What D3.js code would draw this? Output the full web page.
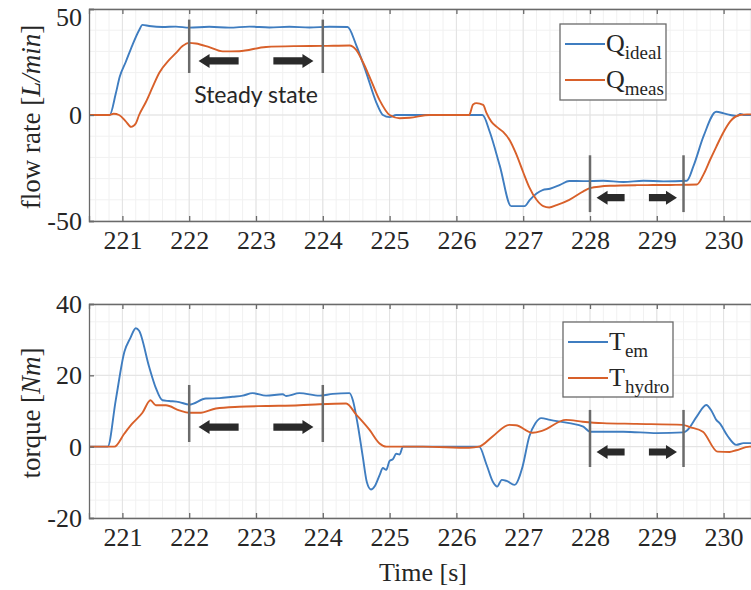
<!DOCTYPE html>
<html><head><meta charset="utf-8">
<script src="https://cdn.jsdelivr.net/npm/d3@7"></script>
<style>body{margin:0;background:#fff}svg{display:block}
.serif{font-family:"Liberation Serif","Times New Roman",serif;}</style>
</head><body>
<svg id="c" width="751" height="590"></svg>
<script>
// ---- data ----
const xTicks = [221,222,223,224,225,226,227,228,229,230];
const flowTicks = [-50,0,50];
const torqueTicks = [-20,0,20,40];

const qIdealT = [220.5,220.81,220.9,220.96,221.05,221.15,221.25,221.3,221.4,221.6,221.8,222.0,222.3,222.6,222.9,223.2,223.5,223.8,224.1,224.37,224.5,224.65,224.8,224.9,225.0,225.1,225.5,226.0,226.39,226.5,226.65,226.82,227.02,227.1,227.2,227.29,227.4,227.55,227.69,227.9,228.2,228.5,228.8,229.1,229.45,229.55,229.7,229.89,230.0,230.1,230.2,230.25,230.3,230.5,231];
const qIdeal  = [0,0,10,18,25,33,40,42.5,42,41.5,41.7,41.2,41.6,41.2,41.7,41.3,41.6,41.3,41.6,41.5,33,20,6,0,-1,0,0,0,0,-8,-24,-43,-43,-40,-37,-35.4,-34.8,-33,-31.1,-31.2,-31,-31.6,-31,-31.3,-31,-24,-10,1.5,0.8,0,-0.5,0.5,0,0,0];

const qMeasT = [220.5,220.8,220.87,220.95,221.05,221.13,221.2,221.25,221.35,221.45,221.55,221.7,221.8,221.9,222.0,222.1,222.3,222.5,222.75,223.15,223.6,224.0,224.4,224.5,224.6,224.7,224.85,225.0,225.15,225.3,225.6,226.0,226.19,226.25,226.3,226.4,226.45,226.52,226.6,226.7,226.8,226.89,227.0,227.09,227.2,227.3,227.39,227.5,227.69,227.9,228.0,228.3,228.7,229.2,229.6,229.7,229.8,229.89,230.0,230.1,230.24,230.35,231];
const qMeas  = [0,0,0.6,0,-3,-5.6,-4,0,6,13,19.8,26,29.2,32.5,34,33.7,32,30,30.1,32.1,32.5,32.6,32.8,30.7,25,18,7,0,-1.5,-1.3,0,0,0,5,5.6,4.8,1,-3,-5.5,-8,-12,-18,-27,-34,-40,-43,-43.6,-42.5,-40,-36,-34.5,-33.4,-33.1,-33,-32.8,-28,-21,-15,-8,-3,0,0.3,0];

const tEmT = [220.5,220.78,220.9,221.03,221.12,221.2,221.25,221.4,221.5,221.6,221.7,221.85,222.0,222.25,222.45,222.65,222.8,222.95,223.15,223.4,223.45,223.65,223.95,224.15,224.4,224.45,224.52,224.6,224.66,224.72,224.78,224.85,224.9,224.95,225.0,225.05,225.1,225.15,225.2,225.5,226.0,226.34,226.45,226.55,226.61,226.68,226.75,226.87,226.99,227.09,227.18,227.27,227.4,227.69,227.9,228.0,228.5,229.0,229.4,229.45,229.6,229.74,229.82,229.89,229.94,230.06,230.19,230.3,230.39,231];
const tEm  = [0,0,13,26.6,30.5,33.2,32.5,22.4,16.5,13,12.8,12.5,11.8,13.5,13.6,14,14.3,15,14.3,14.7,14.2,15,14.3,14.8,15,13,6.5,-3,-10,-12,-11,-8,-6,-6.5,-4,-3.5,-2,-2.2,0,0,0,0,-5,-10,-11.2,-9.3,-9.6,-10.7,-5.6,2.8,6.5,8,7.5,6.6,5.6,4.2,4.2,3.8,4,4.5,8.5,11.7,10,7.5,6.6,3,0.5,1,1,1];

const tHydroT = [220.5,220.88,221.03,221.15,221.3,221.42,221.5,221.65,221.85,222.0,222.15,222.4,222.75,223.15,223.65,223.95,224.35,224.5,224.7,224.85,224.95,225.5,226.19,226.34,226.55,226.79,226.89,227.14,227.29,227.64,227.89,228.19,228.69,229.39,229.49,229.69,229.91,230.09,230.19,230.39,231];
const tHydro  = [0,0,3.7,6.5,9.5,13,11.6,11.6,10.2,9.5,9.5,10.7,11.2,11.4,11.6,11.9,12.1,9,4.7,0.9,0,0,-0.3,0,3,6.1,6,3.9,4.5,7.5,7,6.6,6.4,6.1,5.5,4.2,-1.4,-1.5,-1,0,0];

// steady-state annotation windows [start, end] in seconds
const topWindows = [[222,224],[228,229.4]];
const bottomWindows = [[222,224],[228,229.4]];

// ---- layout ----
const svg = d3.select("#c");
const blue = "#3f7dc0", orange = "#d8602a";
const SERIF = "'Liberation Serif','Times New Roman',serif";
const x = d3.scaleLinear().domain([220.5, 231]).range([89, 790.4]);

const panels = [
  {top:9, bottom:221, domain:[-50,50], ticks:flowTicks, minor:10,
   series:[[qIdealT,qIdeal,blue],[qMeasT,qMeas,orange]],
   label:["flow rate [","L/min","]"],
   legend:{x:560,y:24,w:106,h:76, items:[["Q","ideal",blue],["Q","meas",orange]]},
   windows:topWindows,
   ann:[{lo:19.8,hi:45,arrow:25.5},{lo:-45.8,hi:-19,arrow:-39}]},
  {top:304, bottom:518, domain:[-20,40], ticks:torqueTicks, minor:5,
   series:[[tEmT,tEm,blue],[tHydroT,tHydro,orange]],
   label:["torque [","Nm","]"],
   legend:{x:563,y:322,w:110,h:75, items:[["T","em",blue],["T","hydro",orange]]},
   windows:bottomWindows,
   ann:[{lo:1.3,hi:17.3,arrow:5.5},{lo:-5.7,hi:10.3,arrow:-1.5}]}
];

const L = 89, R = 790.4;
panels.forEach((p,pi)=>{
  const y = d3.scaleLinear().domain(p.domain).range([p.bottom,p.top]);
  const g = svg.append("g");
  const cid = "clip"+pi;
  svg.append("clipPath").attr("id",cid).append("rect")
    .attr("x",L).attr("y",p.top).attr("width",R-L).attr("height",p.bottom-p.top);
  g.append("rect").attr("x",L).attr("y",p.top).attr("width",R-L).attr("height",p.bottom-p.top).attr("fill","#fff");
  const xm = d3.range(220.6, 231, 0.2);
  g.selectAll(".xm").data(xm).join("line")
    .attr("x1",d=>x(d)).attr("x2",d=>x(d)).attr("y1",p.top).attr("y2",p.bottom)
    .attr("stroke","#f1f1f1").attr("stroke-width",1);
  const ym = d3.range(p.domain[0]+p.minor, p.domain[1], p.minor);
  g.selectAll(".ym").data(ym).join("line")
    .attr("x1",L).attr("x2",R).attr("y1",d=>y(d)).attr("y2",d=>y(d))
    .attr("stroke","#f1f1f1").attr("stroke-width",1);
  g.selectAll(".xg").data(xTicks).join("line")
    .attr("x1",d=>x(d)).attr("x2",d=>x(d)).attr("y1",p.top).attr("y2",p.bottom)
    .attr("stroke","#e2e2e2").attr("stroke-width",1);
  g.selectAll(".yg").data(p.ticks).join("line")
    .attr("x1",L).attr("x2",R).attr("y1",d=>y(d)).attr("y2",d=>y(d))
    .attr("stroke","#e2e2e2").attr("stroke-width",1);

  const line = d3.line().x(d=>x(d[0])).y(d=>y(d[1])).curve(d3.curveMonotoneX);
  const sg = g.append("g").attr("clip-path",`url(#${cid})`);
  p.series.forEach(([tt,vv,col])=>{
    sg.append("path").datum(tt.map((t,i)=>[t,vv[i]]))
      .attr("d",line).attr("fill","none").attr("stroke",col).attr("stroke-width",1.9);
  });

  const fmt = d => String(d);
  const axg = g.append("g").attr("transform",`translate(0,${p.bottom})`)
    .call(d3.axisBottom(x).tickValues(xTicks).tickSize(-5).tickPadding(8).tickFormat(fmt));
  const axt = g.append("g").attr("transform",`translate(0,${p.top})`)
    .call(d3.axisTop(x).tickValues(xTicks).tickSize(-5).tickFormat(""));
  const ayg = g.append("g").attr("transform",`translate(${L},0)`)
    .call(d3.axisLeft(y).tickValues(p.ticks).tickSize(-5).tickPadding(7).tickFormat(fmt));
  [axg,axt,ayg].forEach(a=>{
    a.attr("font-family",null).attr("font-size",null);
    a.select(".domain").attr("stroke","#6a6a6a").attr("stroke-width",1.3);
    a.selectAll(".tick line").attr("stroke","#6a6a6a").attr("stroke-width",1.3);
    a.selectAll("text").style("font-family",SERIF).style("font-size","26px").attr("fill","#262626");
  });
  axg.selectAll("text").attr("dy","0.78em");
  ayg.selectAll("text").attr("dy",d => d === p.domain[1] && pi===0 ? "0.62em" : "0.33em");

  const lab = g.append("text")
    .attr("transform",`translate(40,${(p.top+p.bottom)/2 + 2}) rotate(-90)`)
    .attr("text-anchor","middle").style("font-family",SERIF)
    .style("font-size","27px").attr("fill","#262626");
  lab.append("tspan").text(p.label[0]);
  lab.append("tspan").style("font-style","italic").text(p.label[1]);
  lab.append("tspan").text(p.label[2]);

  p.windows.forEach((w,wi)=>{
    const a = p.ann[wi];
    w.forEach(t=>{
      g.append("line").attr("x1",x(t)).attr("x2",x(t)).attr("y1",y(a.hi)).attr("y2",y(a.lo))
        .attr("stroke","#6b6b6b").attr("stroke-width",2.5);
    });
    const span = x(w[1]) - x(w[0]);
    const gap = 0.07*span, len = 0.3*span;
    const ay0 = y(a.arrow);
    const arrow = (tip, tail) => {
      const dir = Math.sign(tail - tip);
      const hl = 11, hh = 7, sh = 3.6;
      const b = tip + dir*hl;
      return `M${tip},${ay0} L${b},${ay0-hh} L${b},${ay0-sh} L${tail},${ay0-sh} L${tail},${ay0+sh} L${b},${ay0+sh} L${b},${ay0+hh} Z`;
    };
    g.append("path").attr("d",arrow(x(w[0])+gap, x(w[0])+gap+len)).attr("fill","#2a2a2a");
    g.append("path").attr("d",arrow(x(w[1])-gap, x(w[1])-gap-len)).attr("fill","#2a2a2a");
  });

  const lg = p.legend;
  const leg = g.append("g");
  leg.append("rect").attr("x",lg.x).attr("y",lg.y).attr("width",lg.w).attr("height",lg.h)
    .attr("fill","#fff").attr("stroke","#6a6a6a").attr("stroke-width",1.3);
  lg.items.forEach(([main,sub,col],i)=>{
    const ly = lg.y + 20 + i*36;
    leg.append("line").attr("x1",lg.x+5).attr("x2",lg.x+45).attr("y1",ly).attr("y2",ly)
      .attr("stroke",col).attr("stroke-width",1.9);
    const t = leg.append("text").attr("x",lg.x+46).attr("y",ly+8)
      .style("font-family",SERIF).attr("fill","#262626");
    t.append("tspan").style("font-size","26px").text(main);
    t.append("tspan").style("font-size","19px").attr("dy",7).text(sub);
  });
});

svg.append("text").attr("x",(x(222)+x(224))/2).attr("y",103).attr("text-anchor","middle")
  .style("font-family","Lato, 'Open Sans', sans-serif").style("font-size","23px").attr("fill","#262626")
  .text("Steady state");

svg.append("text").attr("x",423).attr("y",581).attr("text-anchor","middle")
  .style("font-family",SERIF).style("font-size","26px").attr("fill","#262626")
  .text("Time [s]");
</script>
</body></html>
